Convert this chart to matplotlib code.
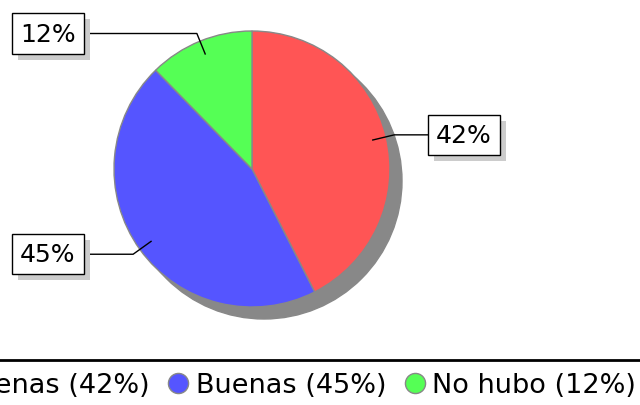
import numpy as np
import matplotlib
matplotlib.use("Agg")
import matplotlib.pyplot as plt
from matplotlib.patches import Circle
from matplotlib.lines import Line2D
from matplotlib.transforms import offset_copy

# data
labels = ["Muy buenas", "Buenas", "No hubo"]
values = [42.5, 45.2, 12.3]
colors = ["#ff5555", "#5555ff", "#55ff55"]

W, H = 640, 406
fig = plt.figure(figsize=(W / 100, H / 100), dpi=100)
ax = fig.add_axes([0, 0, 1, 1])

# pie geometry in pixels (y up)
cx, cy, R = 252, H - 170, 138

# shadow behind the pie
ax.add_patch(Circle((cx + 12, cy - 12), R, color="#888888", zorder=0))

wedges, _ = ax.pie(values, colors=colors, startangle=90, counterclock=False,
                   center=(cx, cy), radius=R,
                   wedgeprops=dict(edgecolor="#888888", linewidth=1))

total = sum(values)
pct = [round(100 * v / total) for v in values]

# labels with leader lines
for w, p in zip(wedges, pct):
    mid = np.deg2rad((w.theta1 + w.theta2) / 2)
    dx, dy = np.cos(mid), np.sin(mid)
    x0, y0 = cx + 0.9 * R * dx, cy + 0.9 * R * dy
    x1, y1 = cx + 1.06 * R * dx, cy + 1.06 * R * dy
    side = 1 if dx > 0 else -1
    x2 = cx + side * (1.275 if side > 0 else 1.22) * R
    ax.plot([x0, x1, x2], [y0, y1, y1], color="black", lw=1, zorder=3)
    ha = "left" if side > 0 else "right"
    txt = f"{p}%"
    tx = x2 + side * 8
    sh = offset_copy(ax.transData, fig=fig, x=6, y=-6, units="dots")
    ax.text(tx, y1, txt, transform=sh, ha=ha, va="center", fontsize=18,
            color="#cccccc", zorder=4,
            bbox=dict(boxstyle="square,pad=0.33", fc="#cccccc", ec="none"))
    ax.text(tx, y1, txt, ha=ha, va="center", fontsize=18, color="black",
            zorder=5,
            bbox=dict(boxstyle="square,pad=0.33", fc="white", ec="black", lw=1))

ax.set_xlim(0, W)
ax.set_ylim(0, H)
ax.set_aspect("equal")
ax.axis("off")

# legend under a horizontal rule
fig.add_artist(Line2D([0, 1], [1 - 361 / H, 1 - 361 / H], color="black", lw=2))
handles = [Line2D([], [], marker="o", ls="none", markersize=14.5,
                  markerfacecolor=c, markeredgecolor="#888888") for c in colors]
leg_labels = [f"{l} ({p}%)" for l, p in zip(labels, pct)]
fig.legend(handles, leg_labels, loc="center right",
           bbox_to_anchor=(636 / W, 1 - 386 / H), ncol=3, frameon=False,
           fontsize=19.5, handletextpad=0.15, columnspacing=0.55,
           handlelength=1.0, borderaxespad=0, borderpad=0)

fig.savefig("out.png", dpi=100)
